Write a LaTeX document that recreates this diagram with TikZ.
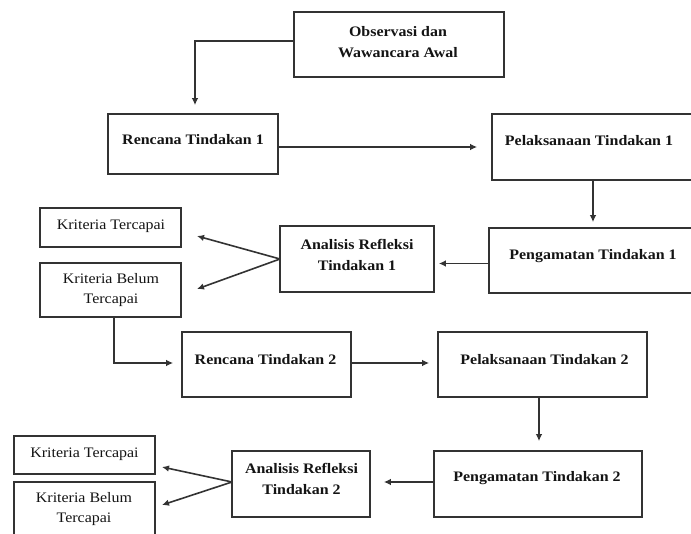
\documentclass[tikz,border=0pt]{standalone}
\usepackage{fontspec}
\setmainfont[FakeStretch=1.1]{Liberation Serif}
\usetikzlibrary{arrows.meta}
\definecolor{linec}{HTML}{333333}
\definecolor{txtc}{HTML}{141414}
\tikzset{
  box/.style={draw=linec, line width=1.6pt, inner sep=0pt},
  txt/.style={text=txtc, align=center, inner sep=0pt, font=\fontsize{14.5}{21}\selectfont\bfseries},
  txtr/.style={text=txtc, align=center, inner sep=0pt, font=\fontsize{14.5}{20}\selectfont},
  arr/.style={draw=linec, line width=1.6pt, -{Latex[length=7pt,width=6.5pt]}},
}
\newcommand{\mybox}[5]{% name, x1, y1, x2, y2
  \node[box, minimum width={(#4-#2)*1pt}, minimum height={(#5-#3)*1pt}] (#1) at ({(#2+#4)/2},{(#3+#5)/2}) {};}
\begin{document}
\begin{tikzpicture}[x=1pt, y=-1pt]
\path[use as bounding box, clip] (0,0) rectangle (691,534);
\fill[white] (0,0) rectangle (691,534);
% boxes
\mybox{obs}{294}{12}{504}{77}
\mybox{r1}{108}{114}{278}{174}
\mybox{p1}{492}{114}{696}{180}
\mybox{pg1}{489}{228}{696}{293}
\mybox{an1}{280}{226}{434}{292}
\mybox{kt1}{40}{208}{181}{247}
\mybox{kb1}{40}{263}{181}{317}
\mybox{r2}{182}{332}{351}{397}
\mybox{p2}{438}{332}{647}{397}
\mybox{pg2}{434}{451}{642}{517}
\mybox{an2}{232}{451}{370}{517}
\mybox{kt2}{14}{436}{155}{474}
\mybox{kb2}{14}{482}{155}{545}
% texts
\node[txt] (obs-t) at (398,42) {Observasi dan\\Wawancara Awal};
\node[txt] (r1-t) at (193,140) {Rencana Tindakan 1};
\node[txt] (p1-t) at (589,141) {Pelaksanaan Tindakan 1};
\node[txt] (pg1-t) at (593,256) {Pengamatan Tindakan 1};
\node[txt] (an1-t) at (357,255) {Analisis Refleksi\\Tindakan 1};
\node[txtr] (kt1-t) at (111,226) {Kriteria Tercapai};
\node[txtr] (kb1-t) at (111,290) {Kriteria Belum\\Tercapai};
\node[txt] (r2-t) at (265.5,360) {Rencana Tindakan 2};
\node[txt] (p2-t) at (544.5,360) {Pelaksanaan Tindakan 2};
\node[txt] (pg2-t) at (537,478) {Pengamatan Tindakan 2};
\node[txt] (an2-t) at (301.5,479) {Analisis Refleksi\\Tindakan 2};
\node[txtr] (kt2-t) at (84.5,454) {Kriteria Tercapai};
\node[txtr] (kb2-t) at (84,509) {Kriteria Belum\\Tercapai};
% tip coordinates
\coordinate (a1o) at (280,259);
\coordinate (a1u) at (197,236);
\coordinate (a1d) at (197,289);
\coordinate (a2o) at (232,482);
\coordinate (a2u) at (162,467);
\coordinate (a2d) at (162,505);
% connectors
\draw[arr, shorten >=8pt] ([yshift=3.5pt]obs.west) -| ([xshift=2pt]r1.north);
\draw[arr, shorten >=14pt] (r1.east |- p1.west) -- (p1.west);
\draw[arr, shorten >=5pt] ([xshift=-1pt]p1.south) -- ([xshift=-1pt]p1.south |- pg1.north);
\draw[arr, shorten >=4pt] ([yshift=-3pt]pg1.west) -- ([yshift=-3pt]pg1.west -| an1.east);
\draw[arr] (a1o) -- (a1u);
\draw[arr] (a1o) -- (a1d);
\draw[arr, shorten >=8pt] ([xshift=3.5pt]kb1.south) |- ([yshift=1.5pt]r2.west);
\draw[arr, shorten >=8pt] ([yshift=1.5pt]r2.east) -- ([yshift=1.5pt]p2.west);
\draw[arr, shorten >=9pt] ([xshift=-3.5pt]p2.south) -- ([xshift=-3.5pt]p2.south |- pg2.north);
\draw[arr, shorten >=13pt] ([yshift=2pt]pg2.west) -- ([yshift=2pt]pg2.west -| an2.east);
\draw[arr] (a2o) -- (a2u);
\draw[arr] (a2o) -- (a2d);
\end{tikzpicture}
\end{document}
